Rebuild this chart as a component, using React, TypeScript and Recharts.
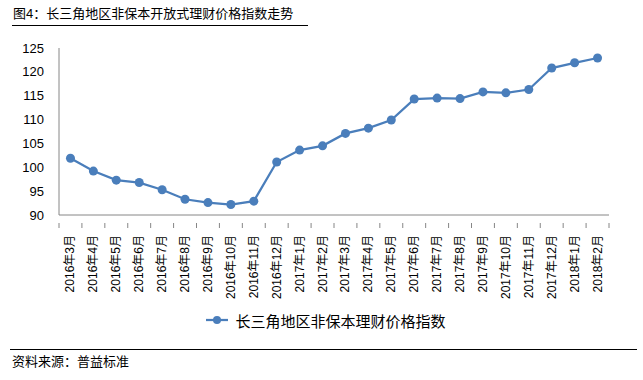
import React from 'react';
import { LineChart, Line, XAxis, YAxis, Legend } from 'recharts';

const months = [
  '2016年3月', '2016年4月', '2016年5月', '2016年6月', '2016年7月', '2016年8月',
  '2016年9月', '2016年10月', '2016年11月', '2016年12月', '2017年1月', '2017年2月',
  '2017年3月', '2017年4月', '2017年5月', '2017年6月', '2017年7月', '2017年8月',
  '2017年9月', '2017年10月', '2017年11月', '2017年12月', '2018年1月', '2018年2月',
];
const indexValues = [
  101.9, 99.2, 97.3, 96.8, 95.3, 93.3, 92.6, 92.2, 92.9, 101.1, 103.6, 104.5,
  107.1, 108.2, 109.9, 114.3, 114.5, 114.4, 115.8, 115.6, 116.3, 120.8, 121.9, 122.9,
];
const yTicks = [90, 95, 100, 105, 110, 115, 120, 125];
const seriesName = '长三角地区非保本理财价格指数';

const data = months.map((m, i) => ({ month: m, value: indexValues[i] }));

const W = 643;
const H = 380;
const margin = { top: 48, right: 34, bottom: 45, left: 0 };
const yAxisWidth = 59;
const band = (W - margin.left - margin.right - yAxisWidth) / months.length;

const lineColor = '#4a7ebb';
const axisColor = '#868686';
const font = '"Liberation Sans", "Noto Sans CJK SC", sans-serif';

const MonthTick = (props: any) => {
  const { x, y, payload, index } = props;
  const last = index === months.length - 1;
  return (
    <g>
      <line x1={x - band / 2} y1={y} x2={x - band / 2} y2={y + 5} stroke={axisColor} />
      {last && <line x1={x + band / 2} y1={y} x2={x + band / 2} y2={y + 5} stroke={axisColor} />}
      <text
        x={0}
        y={0}
        transform={`translate(${x + 4},${y + 12}) rotate(-90)`}
        textAnchor="end"
        fontSize={12}
        fontFamily={font}
        fill="#000"
      >
        {payload.value}
      </text>
    </g>
  );
};

const LegendContent = () => (
  <div style={{ display: 'flex', justifyContent: 'center', alignItems: 'center', height: 30, paddingLeft: 42 }}>
    <svg width={24} height={12} style={{ marginRight: 6 }}>
      <line x1={1} y1={6} x2={23} y2={6} stroke={lineColor} strokeWidth={2.25} />
      <circle cx={12} cy={6} r={4} fill={lineColor} />
    </svg>
    <span style={{ fontSize: 15, fontFamily: font, color: '#000' }}>{seriesName}</span>
  </div>
);

export default function App() {
  return (
    <div style={{ position: 'absolute', left: 0, top: 0, width: W, height: H, background: '#fff', fontFamily: font }}>
      <div style={{ position: 'absolute', left: 13, top: 6, fontSize: 13, color: '#000', lineHeight: '16px' }}>
        图4：长三角地区非保本开放式理财价格指数走势
      </div>
      <div style={{ position: 'absolute', left: 12, top: 25, width: 296, height: 1, background: '#000' }} />
      <LineChart width={W} height={H} data={data} margin={margin}>
        <XAxis
          dataKey="month"
          interval={0}
          height={90}
          padding={{ left: band / 2, right: band / 2 }}
          tickLine={false}
          axisLine={{ stroke: axisColor }}
          tick={<MonthTick />}
        />
        <YAxis
          domain={[90, 125]}
          ticks={yTicks}
          width={yAxisWidth}
          tickLine={false}
          tickSize={6}
          tickMargin={9}
          axisLine={{ stroke: axisColor }}
          tick={{ fontSize: 13, fill: '#000', fontFamily: font }}
        />
        <Legend verticalAlign="bottom" height={30} content={<LegendContent />} />
        <Line
          type="linear"
          dataKey="value"
          name={seriesName}
          stroke={lineColor}
          strokeWidth={2.25}
          dot={{ r: 4.5, fill: lineColor, stroke: lineColor, strokeWidth: 0 }}
          isAnimationActive={false}
        />
      </LineChart>
      <div style={{ position: 'absolute', left: 10, top: 349, width: 627, height: 1, background: '#000' }} />
      <div style={{ position: 'absolute', left: 12, top: 354, fontSize: 13, color: '#000', lineHeight: '16px' }}>
        资料来源：普益标准
      </div>
    </div>
  );
}
